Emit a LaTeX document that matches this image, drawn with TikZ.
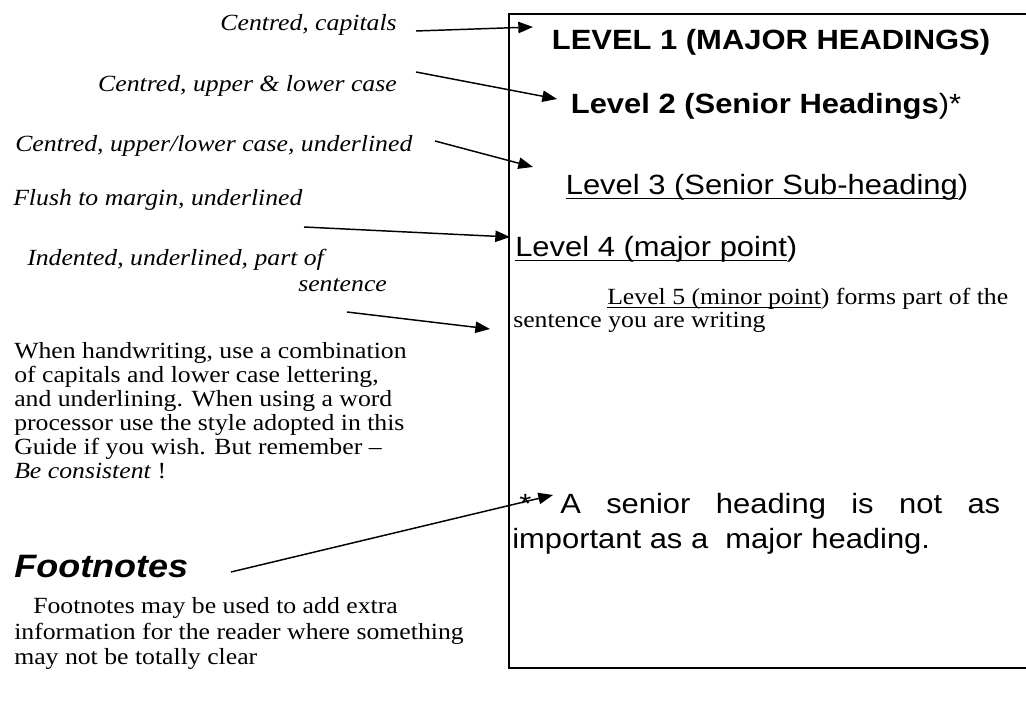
\documentclass[tikz,border=0pt]{standalone}
\usepackage{graphicx}
\usepackage{fontspec}
\setmainfont{Liberation Serif}
\setsansfont{Liberation Sans}
\usetikzlibrary{arrows.meta}

\newcommand\undl[1]{\setbox0=\hbox{#1}\rlap{\rule[-0.15em]{\wd0}{0.06em}}\box0}
\newcommand\sq[1]{\scalebox{1}[0.9]{#1}}
\newcommand\bodyfont{\fontsize{19.3pt}{18pt}\selectfont}
\newcommand\headfont{\sffamily\fontsize{23.2pt}{27pt}\selectfont}

\begin{document}
\begin{tikzpicture}[x=0.75pt,y=-0.75pt,
  note/.style={inner sep=0pt,font=\bodyfont\itshape},
  body/.style={inner sep=0pt,anchor=base west,font=\bodyfont},
  head/.style={inner sep=0pt,font=\headfont},
  pointer/.style={-{Triangle[length=11pt,width=8.5pt]},line width=1.1pt}]
\useasboundingbox (0,0) rectangle (1026,702);

% the page with the headings
\draw[line width=1.6pt] (1026,14) -- (509,14) -- (509,668) -- (1026,668);

\node[head,font=\headfont\bfseries,anchor=base] (lvla) at (771,50) {\sq{LEVEL 1 (MAJOR HEADINGS)}};
\node[head,anchor=base] (lvlb) at (766,114) {\sq{\textbf{Level 2 (Senior Headings})*}};
\node[head,anchor=base] (lvlc) at (767,195) {\sq{\undl{Level 3 (Senior Sub-heading})}};
\node[head,anchor=base west] (lvld) at (515,257) {\sq{\undl{Level 4 (major point})}};
\node[body] (lvle) at (607,305) {\sq{\undl{Level 5 (minor point}) forms part of the}};
\node[body] (lvlf) at (513,328) {\sq{sentence you are writing}};

\node[head,anchor=base west] (star) at (519,513) {\sq{*}};
\node[head,anchor=base west] (fna) at (560,513) {\sq{\makebox[330pt][s]{A senior heading is not as}}};
\node[head,anchor=base west] (fnb) at (512,549) {\sq{important as a\ \ major heading.}};

% notes on the left
\node[note,anchor=base east] (capsnote) at (397,31) {\sq{Centred, capitals}};
\node[note,anchor=base east] (ulcnote) at (397,92) {\sq{Centred, upper \& lower case}};
\node[note,anchor=base west] (ulcunote) at (15,152) {\sq{Centred, upper/lower case, underlined}};
\node[note,anchor=base west] (flushnote) at (13,206) {\sq{Flush to margin, underlined}};
\node[note,anchor=base west] (indnote) at (27,266) {\sq{Indented, underlined, part of}};
\node[note,anchor=base west] (sentnote) at (298,292) {\sq{sentence}};

\foreach \ln [count=\i from 0] in {{When handwriting, use a combination},{of capitals and lower case lettering,},{and underlining. When using a word},{processor use the style adopted in this},{Guide if you wish. But remember \textendash},{\textit{Be consistent} !}}
  \node[body] (hw\i) at (14,359+24*\i) {\sq{\ln}};

\node[inner sep=0pt,anchor=base west,font=\sffamily\bfseries\itshape\fontsize{27pt}{30pt}\selectfont] (fnhead) at (14,578) {\sq{Footnotes}};
\node[body] (fnt0) at (33,614) {\sq{Footnotes may be used to add extra}};
\node[body] (fnt1) at (14,639) {\sq{information for the reader where something}};
\node[body] (fnt2) at (14,664) {\sq{may not be totally clear}};

% pointers
\coordinate (caps-tail) at (416,31);   \coordinate (caps-tip) at (533,27);
\coordinate (ulc-tail) at (416,72);    \coordinate (ulc-tip) at (557,99);
\coordinate (ulcu-tail) at (435,141);  \coordinate (ulcu-tip) at (533,167);
\coordinate (flush-tail) at (304,227); \coordinate (flush-tip) at (510,237);
\coordinate (ind-tail) at (347,312);   \coordinate (ind-tip) at (490,329);
\coordinate (fn-tail) at (231,572);    \coordinate (fn-tip) at (553,495);
\foreach \n in {caps,ulc,ulcu,flush,ind,fn}
  \draw[pointer] (\n-tail) -- (\n-tip);

\end{tikzpicture}
\end{document}
